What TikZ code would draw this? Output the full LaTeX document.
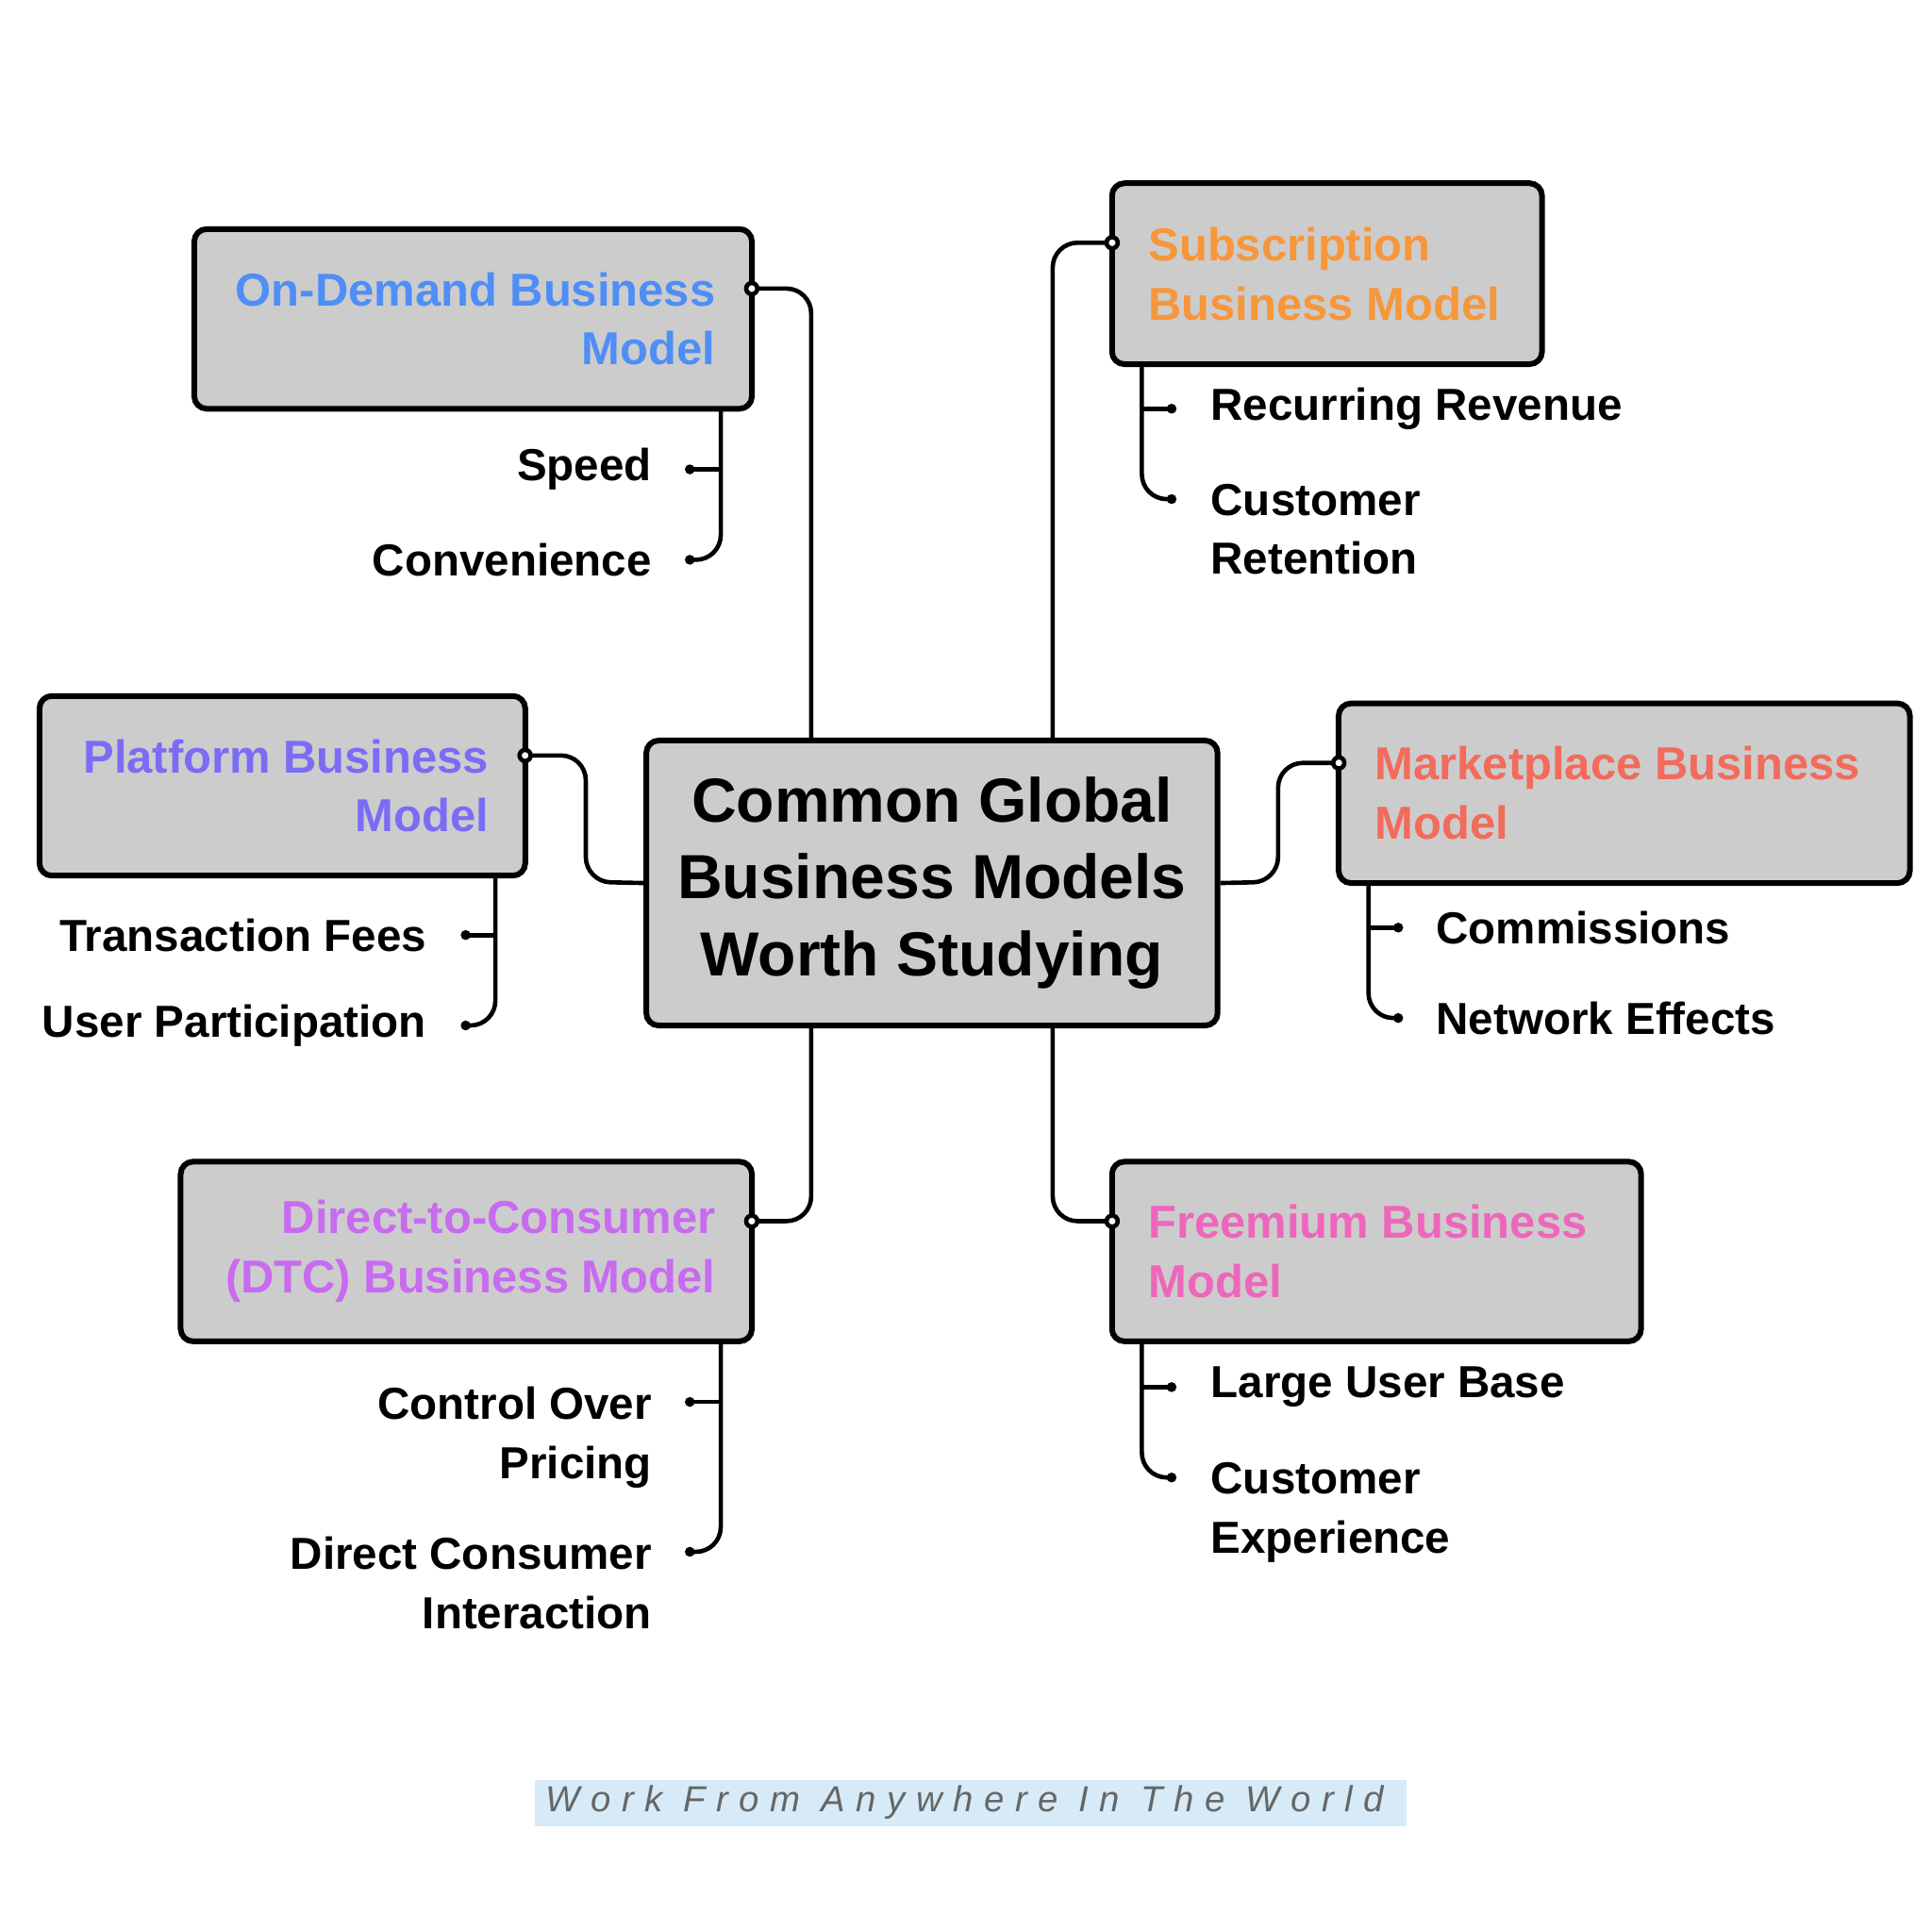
\documentclass[tikz,border=0pt]{standalone}
\usepackage{fontspec}
\setmainfont{Liberation Sans}
\usetikzlibrary{positioning,calc}
\definecolor{boxgray}{HTML}{CCCCCC}
\definecolor{cdemand}{HTML}{4F8EF7}
\definecolor{csub}{HTML}{F7963A}
\definecolor{cplat}{HTML}{7B6CF6}
\definecolor{cmarket}{HTML}{F26B5B}
\definecolor{cdtc}{HTML}{C86BF0}
\definecolor{cfree}{HTML}{EE66BB}
\definecolor{footbg}{HTML}{D6EBF7}
\begin{document}
\begin{tikzpicture}[x=0.01cm,y=-0.01cm,line width=1pt,
model/.style={rectangle, rounded corners=0.1cm, draw, line width=1.3pt, fill=boxgray, inner sep=0pt},
title/.style={font=\fontsize{10.6}{13.6}\selectfont\bfseries, inner sep=0pt},
leaf/.style={font=\fontsize{10.3}{13.6}\selectfont\bfseries, inner sep=0pt},
link/.style={line width=1pt, rounded corners=0.2cm},
hole/.style={circle, draw, line width=1pt, fill=white, inner sep=0pt, minimum size=0.09cm},
pin/.style={circle, fill=black, inner sep=0pt, minimum size=0.08cm}]

\useasboundingbox (0,0) rectangle (1560,1560);

%centre
\node[model, font=\fontsize{14.3}{17.6}\selectfont\bfseries, align=center,
  minimum width=4.61cm, minimum height=2.30cm] (core) at (752.5,713) {Common Global\\Business Models\\Worth Studying};

%models
\node[model, minimum width=4.50cm, minimum height=1.45cm] (demand) at (382,257.5) {};
\node[model, minimum width=3.47cm, minimum height=1.46cm] (sub) at (1071.5,221) {};
\node[model, minimum width=3.92cm, minimum height=1.45cm] (plat) at (228,634.5) {};
\node[model, minimum width=4.61cm, minimum height=1.45cm] (market) at (1311.5,640.5) {};
\node[model, minimum width=4.61cm, minimum height=1.45cm] (dtc) at (376.5,1010.5) {};
\node[model, minimum width=4.27cm, minimum height=1.45cm] (free) at (1111.5,1010.5) {};

\node[title, text=cdemand, align=right, anchor=east] at ([xshift=-0.3cm]demand.east) {On-Demand Business\\Model};
\node[title, text=csub, align=left, anchor=west] at ([xshift=0.3cm]sub.west) {Subscription\\Business Model};
\node[title, text=cplat, align=right, anchor=east] at ([xshift=-0.3cm]plat.east) {Platform Business\\Model};
\node[title, text=cmarket, align=left, anchor=west] at ([xshift=0.3cm]market.west) {Marketplace Business\\Model};
\node[title, text=cdtc, align=right, anchor=east] at ([xshift=-0.3cm]dtc.east) {Direct-to-Consumer\\(DTC) Business Model};
\node[title, text=cfree, align=left, anchor=west] at ([xshift=0.3cm]free.west) {Freemium Business\\Model};

%links to centre
\draw[link] (core.north -| 655,0) -- (655,233) -- (607,233);
\draw[link] (core.north -| 850,0) -- (850,196) -- (898,196);
\draw[link] (core.west) -- (473,712) -- (473,610) -- (424,610);
\draw[link] (core.east) -- (1032,712) -- (1032,616) -- (1081,616);
\draw[link] (core.south -| 655,0) -- (655,986) -- (607,986);
\draw[link] (core.south -| 850,0) -- (850,986) -- (898,986);
\node[hole] (hdemand) at (607,233) {};
\node[hole] (hsub) at (898,196) {};
\node[hole] (hplat) at (424,610) {};
\node[hole] (hmarket) at (1081,616) {};
\node[hole] (hdtc) at (607,986) {};
\node[hole] (hfree) at (898,986) {};

%leaves
\foreach \nm/\bx/\by/\tx/\ya/\yb in {demand/582/330/557/379/452, plat/400/707/376/755/828, dtc/582/1083/557/1132/1253,
    sub/922/294/946/330/403, market/1105/713/1129/749/822, free/922/1083/946/1120/1193}{
  \draw[link] (\bx,\by) -- (\bx,\yb) -- (\tx,\yb);
  \draw (\bx,\ya) -- (\tx,\ya);
  \node[pin] (p\nm a) at (\tx,\ya) {};
  \node[pin] (p\nm b) at (\tx,\yb) {};
}

\node[leaf, anchor=east] (speed) at (528,379) {Speed};
\node[leaf, anchor=east] (conv) at (528,452) {Convenience};
\node[leaf, anchor=west] (recur) at (976,330) {Recurring Revenue};
\node[leaf, anchor=north west, align=left] (retain) at (976,389) {Customer\\Retention};
\node[leaf, anchor=east] (fees) at (346,755) {Transaction Fees};
\node[leaf, anchor=east] (users) at (346,828) {User Participation};
\node[leaf, anchor=west] (comm) at (1158,749) {Commissions};
\node[leaf, anchor=west] (netw) at (1158,822) {Network Effects};
\node[leaf, anchor=north east, align=right] (price) at (528,1118) {Control Over\\Pricing};
\node[leaf, anchor=north east, align=right] (inter) at (528,1239) {Direct Consumer\\Interaction};
\node[leaf, anchor=west] (base) at (976,1120) {Large User Base};
\node[leaf, anchor=north west, align=left] (exper) at (976,1179) {Customer\\Experience};

%footer
\fill[footbg] (432,1437) rectangle (1136,1475);
\node[font=\fontsize{8.3}{10}\selectfont\itshape\addfontfeature{LetterSpace=30}, text=black!60] (foot) at (779,1455) {Work From Anywhere In The World};
\end{tikzpicture}
\end{document}
